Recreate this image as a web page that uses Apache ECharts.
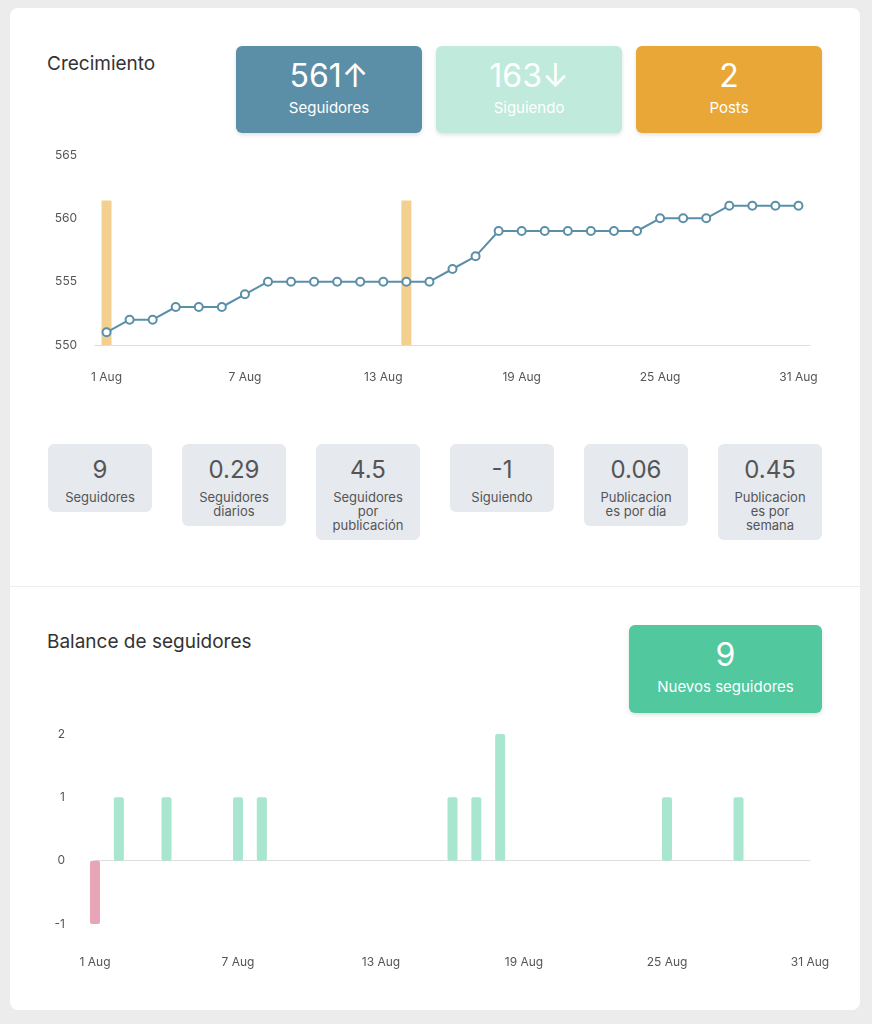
<!DOCTYPE html>
<html>
<head>
<meta charset="utf-8">
<script src="https://cdn.jsdelivr.net/npm/echarts@6/dist/echarts.min.js"></script>
<style>
  body { margin: 0; background: #ececec; font-family: Inter, "Noto Sans", sans-serif; }
  .card { position: absolute; left: 10px; top: 8px; width: 850px; height: 1002px; background: #fff; border-radius: 8px; }
  .abs { position: absolute; }
  .title { font-size: 19px; color: #333; }
  .big { border-radius: 6px; color: #fff; text-align: center; box-shadow: 0 2px 4px rgba(0,0,0,0.12); }
  .big .n { font-size: 32px; margin-top: 12px; line-height: 36px; }
  .big .l { font-size: 15px; margin-top: 4px; }
  .small { background: #e6e9ee; border-radius: 6px; color: #555; text-align: center; width: 104px; }
  .small .n { font-size: 24px; margin-top: 12px; line-height: 28px; }
  .small .l { font-size: 13px; line-height: 14px; margin: 6px 8px 8px; }
  .chart { position: absolute; left: 0; width: 872px; }
</style>
</head>
<body>
<div class="card"></div>
<div class="abs" style="left:10px;top:586px;width:850px;height:1px;background:#eee"></div>
<div class="abs title" style="left:47px;top:52px">Crecimiento</div>
<div class="abs title" style="left:47px;top:630px">Balance de seguidores</div>
<div class="abs big" style="left:236px;top:46px;width:186px;height:87px;background:#5b8fa8"><div class="n">561↑</div><div class="l">Seguidores</div></div>
<div class="abs big" style="left:436px;top:46px;width:186px;height:87px;background:#c0eadc"><div class="n">163↓</div><div class="l">Siguiendo</div></div>
<div class="abs big" style="left:636px;top:46px;width:186px;height:87px;background:#e8a736"><div class="n">2</div><div class="l">Posts</div></div>
<div class="abs big" style="left:629px;top:625px;width:193px;height:88px;background:#52c89f"><div class="n">9</div><div class="l">Nuevos seguidores</div></div>
<div id="stats"></div>
<div id="c1" class="chart" style="top:0;height:400px"></div>
<div id="c2" class="chart" style="top:700px;height:280px"></div>
<script>
const days = [];
for (let d = 1; d <= 31; d++) days.push(d + " Aug");
const followers = [551,552,552,553,553,553,554,555,555,555,555,555,555,555,555,556,557,559,559,559,559,559,559,559,560,560,560,561,561,561,561];
const postDays = ["1 Aug", "14 Aug"];
const postBarValue = 561.4;
const balance = [-1,1,0,1,0,0,1,1,0,0,0,0,0,0,0,1,1,2,0,0,0,0,0,0,1,0,0,1,0,0,0];
const statValues = ["9", "0.29", "4.5", "-1", "0.06", "0.45"];
const statLabels = ["Seguidores", "Seguidores diarios", "Seguidores por publicación", "Siguiendo", "Publicacion es por día", "Publicacion es por semana"];

const stats = document.getElementById("stats");
statValues.forEach(function (v, i) {
  const el = document.createElement("div");
  el.className = "abs small";
  el.style.left = (48 + i * 134) + "px";
  el.style.top = "444px";
  el.innerHTML = '<div class="n">' + v + '</div><div class="l">' + statLabels[i] + '</div>';
  stats.appendChild(el);
});

const axisText = { color: "#555", fontSize: 12, fontFamily: "Inter" };

const c1 = echarts.init(document.getElementById("c1"));
c1.setOption({
  animation: false,
  grid: { left: 95, right: 62, top: 155, height: 190 },
  xAxis: {
    type: "category", data: days, boundaryGap: true,
    axisLine: { lineStyle: { color: "#ddd" } }, axisTick: { show: false },
    axisLabel: Object.assign({ interval: 5, margin: 26 }, axisText)
  },
  yAxis: {
    type: "value", min: 550, max: 565, interval: 5, position: "left",
    splitLine: { show: false }, axisLabel: Object.assign({ margin: 18, align: "right" }, axisText)
  },
  series: [
    {
      type: "bar", barWidth: 10, barGap: "-100%",
      data: days.map(function (d) { return postDays.indexOf(d) >= 0 ? postBarValue : null; }),
      itemStyle: { color: "#f3d08f" }
    },
    {
      type: "line", data: followers, symbol: "circle", symbolSize: 8,
      lineStyle: { color: "#5b8fa8", width: 2 },
      itemStyle: { color: "#fff", borderColor: "#5b8fa8", borderWidth: 2 }
    }
  ]
});

const c2 = echarts.init(document.getElementById("c2"));
c2.setOption({
  animation: false,
  grid: { left: 95, right: 62, top: 34, height: 190 },
  xAxis: {
    type: "category", data: days, boundaryGap: false,
    axisLine: { lineStyle: { color: "#ddd" } }, axisTick: { show: false },
    axisLabel: Object.assign({ interval: 5, margin: 32 }, axisText)
  },
  yAxis: {
    type: "value", min: -1, max: 2, interval: 1,
    axisLine: { show: false }, splitLine: { show: false },
    axisLabel: Object.assign({ margin: 30 }, axisText)
  },
  series: [{
    type: "bar", barWidth: 10,
    data: balance.map(function (v) {
      return { value: v === 0 ? null : v, itemStyle: { color: v < 0 ? "#e8a5b8" : "#a8e6cf", borderRadius: 2 } };
    })
  }]
});
</script>
</body>
</html>
